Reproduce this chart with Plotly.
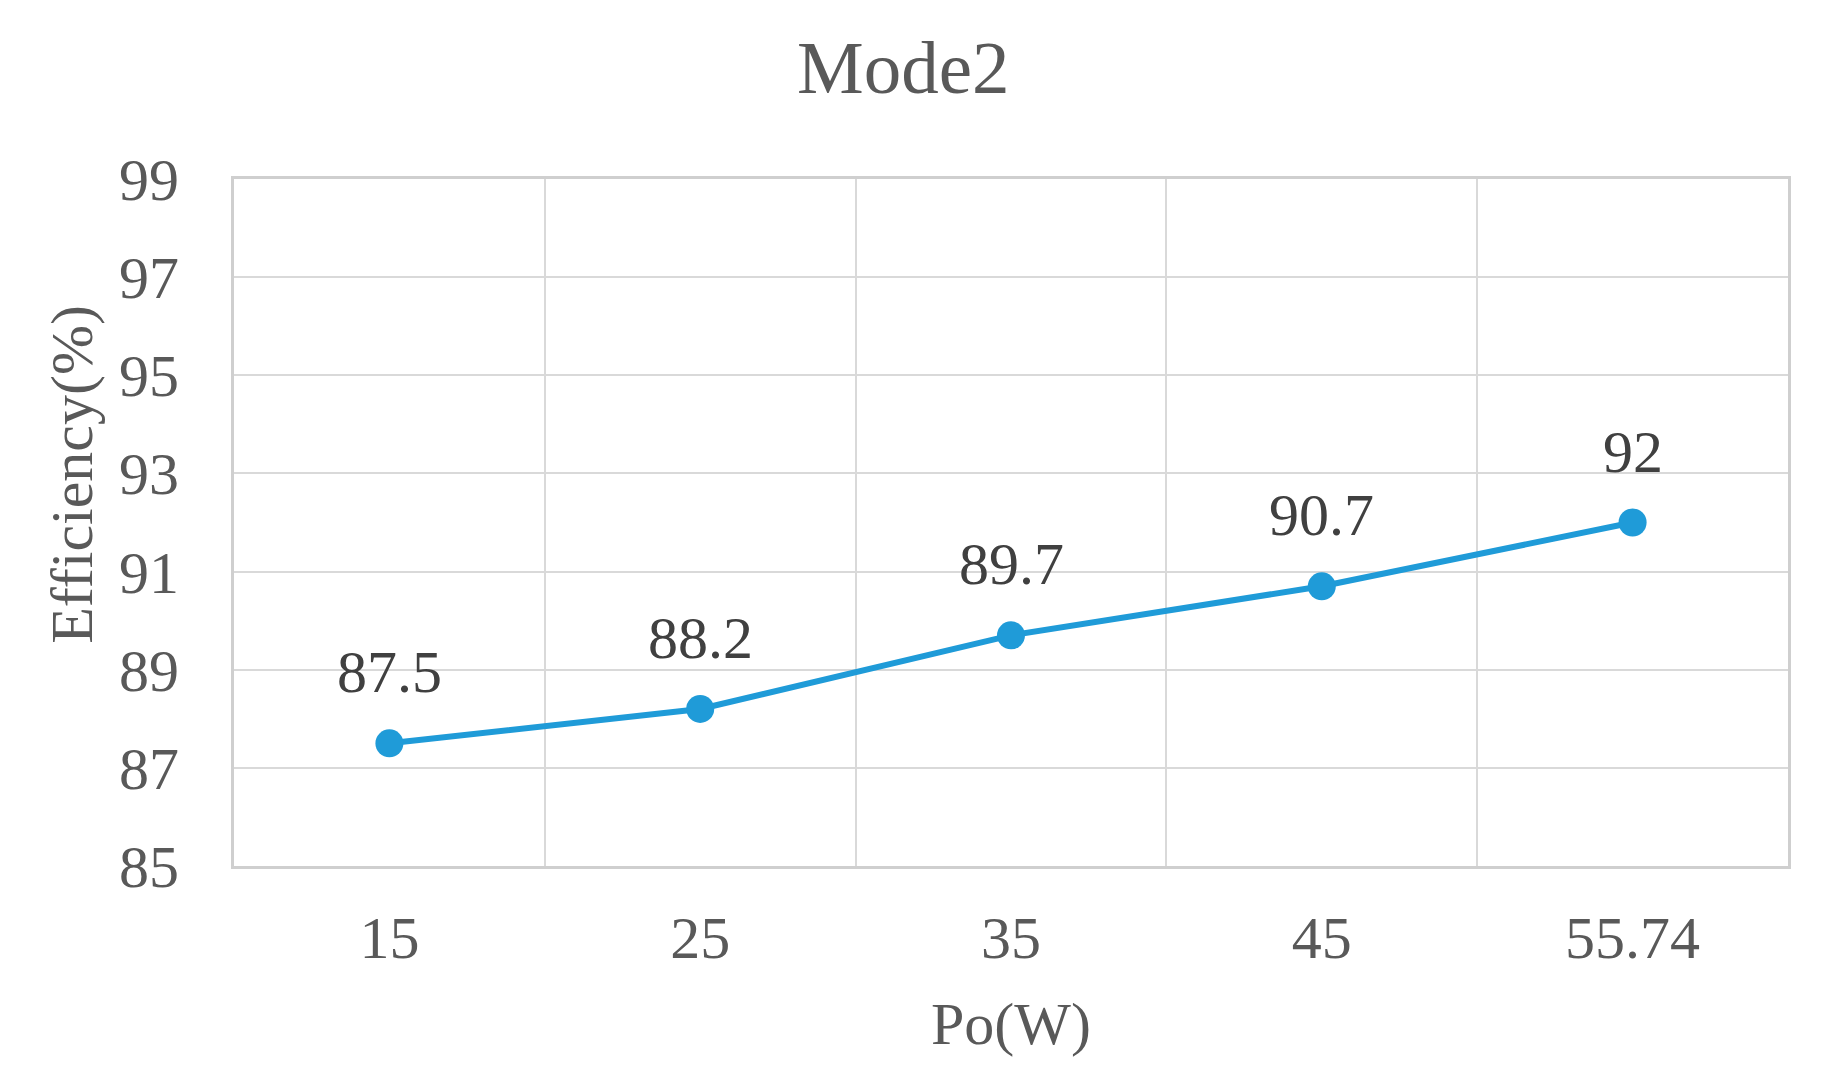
import plotly.graph_objects as go

categories = ["15", "25", "35", "45", "55.74"]
efficiency = [87.5, 88.2, 89.7, 90.7, 92]
y_ticks = [85, 87, 89, 91, 93, 95, 97, 99]

title_text = "Mode2"
x_title = "Po(W)"
y_title = "Efficiency(%)"

FONT = "Liberation Serif, Times New Roman, serif"
TXT = "#595959"
LINE_BLUE = "#1f9bd8"

fig = go.Figure()
fig.add_trace(go.Scatter(
    x=categories, y=efficiency, mode="lines+markers",
    line=dict(color=LINE_BLUE, width=6),
    marker=dict(color=LINE_BLUE, size=28),
    showlegend=False, hoverinfo="skip",
))

for i, v in enumerate(efficiency):
    fig.add_annotation(x=i, y=v, xref="x", yref="y", text=f"{v:g}", showarrow=False,
                       yanchor="bottom", yshift=36,
                       font=dict(family=FONT, size=60, color="#404040"))

fig.add_annotation(text=x_title, xref="paper", yref="paper", x=0.5, y=-0.23,
                   xanchor="center", yanchor="middle", showarrow=False,
                   font=dict(family=FONT, size=60, color=TXT))
fig.add_annotation(text=y_title, xref="paper", yref="paper", x=-0.104, y=0.57,
                   xanchor="center", yanchor="middle", showarrow=False, textangle=-90,
                   font=dict(family=FONT, size=60, color=TXT))

fig.update_layout(
    width=1827, height=1087,
    margin=dict(l=226, r=47, t=171, b=229, autoexpand=False),
    paper_bgcolor="white", plot_bgcolor="white",
    title=dict(text=title_text, x=0.49, xref="container", xanchor="center",
               y=1 - 59 / 1087, yref="container", yanchor="middle",
               font=dict(family=FONT, size=75, color=TXT)),
    xaxis=dict(type="category", tickson="boundaries", showgrid=True,
               gridcolor="#d9d9d9", gridwidth=2, automargin=False,
               showline=True, linecolor="#cfcfcf", linewidth=3, mirror=True,
               ticks="", ticklabelstandoff=17,
               tickfont=dict(family=FONT, size=60, color=TXT),
               range=[-0.5, 4.5]),
    yaxis=dict(range=[85, 99], tickvals=y_ticks, showgrid=True,
               gridcolor="#d9d9d9", gridwidth=2, zeroline=False, automargin=False,
               showline=True, linecolor="#cfcfcf", linewidth=3, mirror=True,
               ticks="", ticklabelstandoff=40,
               tickfont=dict(family=FONT, size=60, color=TXT)),
)

fig.write_html("out.html")
